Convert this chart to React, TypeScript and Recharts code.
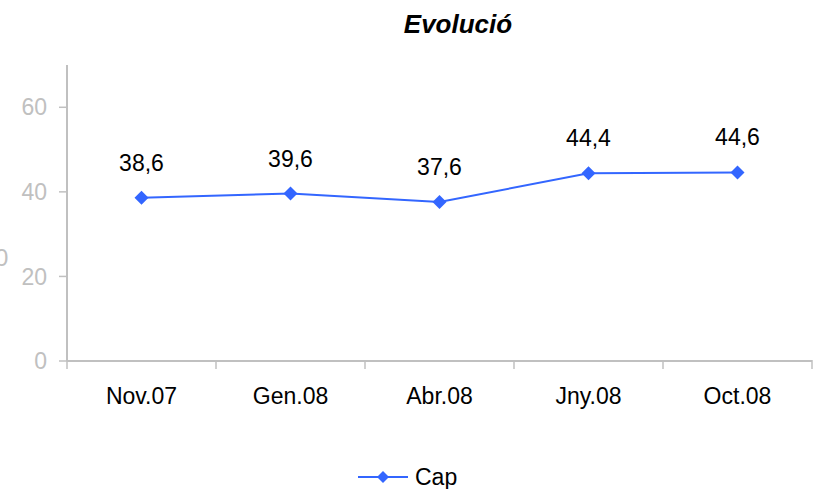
import React from 'react';
import { LineChart, Line, XAxis, YAxis, LabelList, Legend } from 'recharts';

const categories = ['Nov.07', 'Gen.08', 'Abr.08', 'Jny.08', 'Oct.08'];
const capValues = [38.6, 39.6, 37.6, 44.4, 44.6];
const yTicks = [0, 20, 40, 60];
const seriesName = 'Cap';
const title = 'Evolució';

const data = categories.map((name, i) => ({ name, cap: capValues[i] }));

const BLUE = '#3366ff';
const GRAY = '#c0c0c0';
const FONT = 'Arial, "Liberation Sans", sans-serif';

const Diamond = (props: any) => {
   const { cx, cy } = props;
   if (cx == null || cy == null) return null;
   const r = 7;
   return <path d={`M${cx},${cy - r}L${cx + r},${cy}L${cx},${cy + r}L${cx - r},${cy}Z`} fill={BLUE} />;
};

// Excel style: tick marks sit between categories, labels in the middle
const XTick = (props: any) => {
   const { x, y, payload, index } = props;
   const half = payload.offset || 0;
   return (
      <g>
         <line x1={x - half} y1={y - 9} x2={x - half} y2={y} stroke={GRAY} strokeWidth={1.5} />
         {index === categories.length - 1 && (
            <line x1={x + half} y1={y - 9} x2={x + half} y2={y} stroke={GRAY} strokeWidth={1.5} />
         )}
         <text x={x} y={y + 35} textAnchor="middle" fill="#000" fontSize={23} fontFamily={FONT}>
            {payload.value}
         </text>
      </g>
   );
};

const LegendContent = () => (
   <svg width={817} height={30}>
      <line x1={358} y1={17} x2={408} y2={17} stroke={BLUE} strokeWidth={2} />
      <path d="M383,11L389,17L383,23L377,17Z" fill={BLUE} />
      <text x={415} y={25} fontSize={23} fontFamily={FONT} fill="#000">
         {seriesName}
      </text>
   </svg>
);

const formatComma = (v: any) => String(v).replace('.', ',');

export default function App() {
   return (
      <div style={{ position: 'absolute', left: 0, top: 0, width: 817, height: 489, background: '#fff', overflow: 'hidden' }}>
         <svg width={817} height={60} style={{ position: 'absolute', left: 0, top: 0 }}>
            <text
               x={458}
               y={33}
               textAnchor="middle"
               fontFamily={FONT}
               fontSize={26}
               fontWeight="bold"
               fontStyle="italic"
               fill="#000"
            >
               {title}
            </text>
         </svg>
         <svg width={40} height={40} style={{ position: 'absolute', left: 0, top: 240 }}>
            <text x={-5} y={26} fontFamily={FONT} fontSize={24} fill={GRAY}>
               0
            </text>
         </svg>
         <LineChart width={817} height={489} data={data} margin={{ top: 65, right: 5, bottom: 58, left: 7 }}>
            <XAxis
               dataKey="name"
               scale="band"
               axisLine={{ stroke: GRAY, strokeWidth: 2 }}
               tickLine={false}
               tick={<XTick />}
               height={40}
               interval={0}
            />
            <YAxis
               domain={[0, 70]}
               ticks={yTicks}
               width={60}
               axisLine={{ stroke: GRAY, strokeWidth: 2 }}
               tickLine={{ stroke: GRAY, strokeWidth: 1.5 }}
               tickSize={8}
               tickMargin={12}
               tick={{ fill: GRAY, fontSize: 23, fontFamily: FONT }}
               allowDataOverflow
            />
            <Legend
               verticalAlign="bottom"
               height={30}
               content={<LegendContent />}
               wrapperStyle={{ top: 460, left: 0, bottom: 'auto', width: 817 }}
            />
            <Line
               dataKey="cap"
               name={seriesName}
               stroke={BLUE}
               strokeWidth={2}
               dot={<Diamond />}
               activeDot={false}
               isAnimationActive={false}
            >
               <LabelList
                  dataKey="cap"
                  position="top"
                  offset={27}
                  formatter={formatComma}
                  style={{ fill: '#000', fontSize: 23, fontFamily: FONT }}
               />
            </Line>
         </LineChart>
      </div>
   );
}
